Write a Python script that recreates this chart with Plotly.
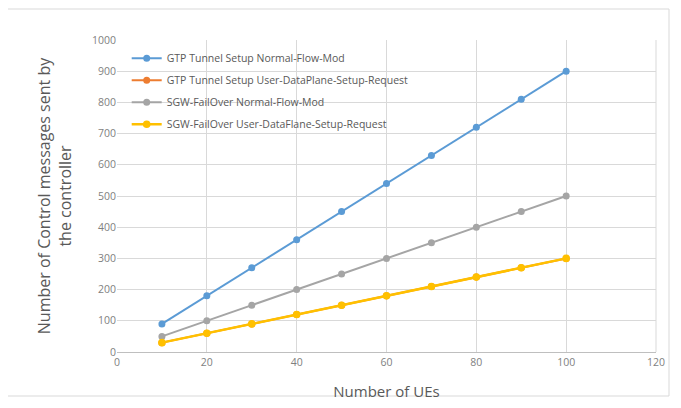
import plotly.graph_objects as go

ues = [10, 20, 30, 40, 50, 60, 70, 80, 90, 100]
gtp_normal = [90, 180, 270, 360, 450, 540, 630, 720, 810, 900]
gtp_user = [30, 60, 90, 120, 150, 180, 210, 240, 270, 300]
sgw_normal = [50, 100, 150, 200, 250, 300, 350, 400, 450, 500]
sgw_user = [30, 60, 90, 120, 150, 180, 210, 240, 270, 300]

names = ["GTP Tunnel Setup Normal-Flow-Mod",
         "GTP Tunnel Setup User-DataPlane-Setup-Request",
         "SGW-FailOver Normal-Flow-Mod",
         "SGW-FailOver User-DataFlane-Setup-Request"]
series = [gtp_normal, gtp_user, sgw_normal, sgw_user]
colors = ["#5b9bd5", "#ed7d31", "#a5a5a5", "#ffc000"]
widths = [2, 2, 2, 2.5]
sizes = [7, 7, 7, 7.6]

fig = go.Figure()
for i, (n, s, c) in enumerate(zip(names, series, colors)):
    fig.add_trace(go.Scatter(x=ues, y=s, name=n, mode="lines+markers",
                             legendgroup=f"g{i}",
                             line=dict(color=c, width=widths[i]),
                             marker=dict(color=c, size=sizes[i])))

# page body has an 8px offset
off = 8
W, H = 681, 408
ml, mt = 117 - off, 40 - off
right_px, bottom_px = 656 - off, 352 - off
mr, mb = W - right_px, H - bottom_px
pw, ph = W - ml - mr, H - mt - mb

fig.update_layout(
    width=W, height=H,
    margin=dict(l=ml, r=mr, t=mt, b=mb),
    paper_bgcolor="white", plot_bgcolor="white",
    font=dict(family="Open Sans, sans-serif", color="#595959"),
    showlegend=True,
    legend=dict(x=0.018, y=0.988, xanchor="left", yanchor="top",
                bgcolor="rgba(255,255,255,0)", font=dict(size=10.5, color="#595959"),
                tracegroupgap=3, itemwidth=30),
    xaxis=dict(range=[0, 120], dtick=20, showgrid=True, gridcolor="#d9d9d9",
               zeroline=False, showline=True, linecolor="#bfbfbf",
               tickfont=dict(size=10.5, color="#7f7f7f"),
               title=dict(text="Number of UEs", font=dict(size=15, color="#595959"), standoff=18)),
    yaxis=dict(range=[0, 1000], dtick=100, showgrid=True, gridcolor="#d9d9d9",
               zeroline=False, showline=False,
               tickfont=dict(size=10.5, color="#7f7f7f"),
               title=dict(text="Number of Control messages sent by<br>the controller",
                          font=dict(size=16, color="#595959"), standoff=16)),
    shapes=[dict(type="rect", xref="paper", yref="paper",
                 x0=(6 - off - ml) / pw, x1=(669 - off - ml) / pw,
                 y0=(bottom_px - (396 - off)) / ph, y1=(bottom_px - (9 - off)) / ph,
                 line=dict(color="#d9d9d9", width=1), layer="below"),
            dict(type="line", xref="paper", yref="paper", x0=1, x1=1, y0=0, y1=1,
                 line=dict(color="#d9d9d9", width=1))],
)

fig.write_html("out.html")
